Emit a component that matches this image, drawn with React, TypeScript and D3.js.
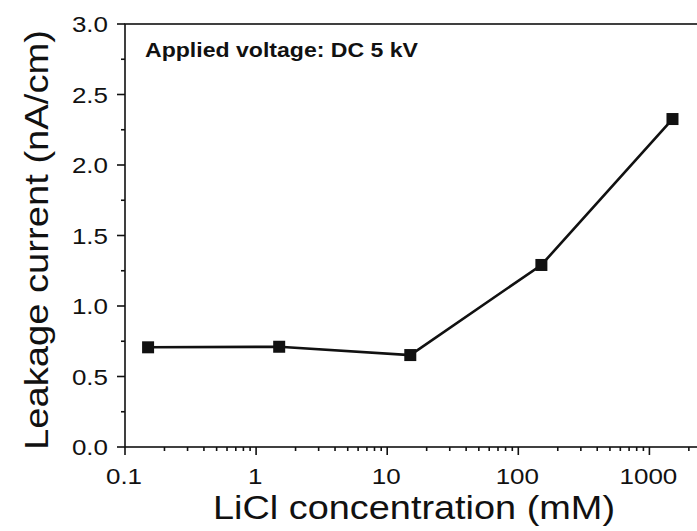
import React from "react";
import * as d3 from "d3";

// LiCl concentration (mM) and measured leakage current (nA/cm)
const concentrations = [0.15, 1.5, 15, 150, 1500];
const leakage = [0.707, 0.711, 0.652, 1.291, 2.326];

const xMajorTicks = [0.1, 1, 10, 100, 1000];
const xTickLabels = ["0.1", "1", "10", "100", "1000"];
const yMajorTicks = [0, 0.5, 1.0, 1.5, 2.0, 2.5, 3.0];
const yTickLabels = ["0.0", "0.5", "1.0", "1.5", "2.0", "2.5", "3.0"];

const W = 697;
const H = 531;
const left = 125;
const top = 24;
const bottom = 447;
const decade = 131.1;
const xMax = 2500;

const FONT = "'Liberation Sans', Arial, sans-serif";
const INK = "#111";
const STRETCH = 1.18; // glyphs are set slightly wide

export default function App() {
  const x = d3
    .scaleLog()
    .domain([0.1, xMax])
    .range([left, left + decade * Math.log10(xMax / 0.1)]);
  const y = d3.scaleLinear().domain([0, 3]).range([bottom, top]);
  const right = x(xMax);

  const xMinor: number[] = [];
  for (let e = -1; e <= 3; e++) {
    for (let m = 2; m <= 9; m++) {
      const v = m * Math.pow(10, e);
      if (v <= xMax) xMinor.push(v);
    }
  }
  const yMinor = d3.range(0.25, 3, 0.5);

  const line = d3
    .line<number>()
    .x((_, i) => x(concentrations[i]))
    .y((d) => y(d));

  const ms = 12;

  return (
    <svg
      width={W}
      height={H}
      style={{ position: "absolute", left: 0, top: 0, background: "#fff" }}
      fontFamily={FONT}
    >
      <rect x={0} y={0} width={W} height={H} fill="#fff" />
      {/* frame */}
      <rect
        x={left}
        y={top}
        width={right - left}
        height={bottom - top}
        fill="none"
        stroke={INK}
        strokeWidth={1.6}
      />
      {/* x ticks */}
      {xMajorTicks.map((t, i) => (
        <g key={"xm" + i}>
          <line x1={x(t)} x2={x(t)} y1={bottom} y2={bottom + 8} stroke={INK} strokeWidth={1.6} />
          <text
            transform={`translate(${x(t) - 1}, 484) scale(${STRETCH}, 1)`}
            fontSize={22}
            textAnchor="middle"
            fill={INK}
          >
            {xTickLabels[i]}
          </text>
        </g>
      ))}
      {xMinor.map((t, i) => (
        <line key={"xn" + i} x1={x(t)} x2={x(t)} y1={bottom} y2={bottom + 4} stroke={INK} strokeWidth={1.6} />
      ))}
      {/* y ticks */}
      {yMajorTicks.map((t, i) => (
        <g key={"ym" + i}>
          <line x1={left - 8} x2={left} y1={y(t)} y2={y(t)} stroke={INK} strokeWidth={1.6} />
          <text
            transform={`translate(108, ${y(t) + 8}) scale(${STRETCH}, 1)`}
            fontSize={22}
            textAnchor="end"
            fill={INK}
          >
            {yTickLabels[i]}
          </text>
        </g>
      ))}
      {yMinor.map((t, i) => (
        <line key={"yn" + i} x1={left - 4} x2={left} y1={y(t)} y2={y(t)} stroke={INK} strokeWidth={1.6} />
      ))}
      {/* data */}
      <path d={line(leakage) || ""} fill="none" stroke={INK} strokeWidth={2.6} />
      {leakage.map((v, i) => (
        <rect
          key={"p" + i}
          x={x(concentrations[i]) - ms / 2}
          y={y(v) - ms / 2}
          width={ms}
          height={ms}
          fill={INK}
        />
      ))}
      {/* annotation */}
      <text
        x={145}
        y={57}
        fontSize={19.5}
        fontWeight="bold"
        fill={INK}
        textLength={273}
        lengthAdjust="spacingAndGlyphs"
      >
        Applied voltage: DC 5 kV
      </text>
      {/* axis titles */}
      <text
        x={213}
        y={519}
        fontSize={33}
        fill={INK}
        textLength={402}
        lengthAdjust="spacingAndGlyphs"
      >
        LiCl concentration (mM)
      </text>
      <text
        transform={`translate(48, 450) rotate(-90)`}
        fontSize={33}
        fill={INK}
        textLength={420}
        lengthAdjust="spacingAndGlyphs"
      >
        Leakage current (nA/cm)
      </text>
    </svg>
  );
}
